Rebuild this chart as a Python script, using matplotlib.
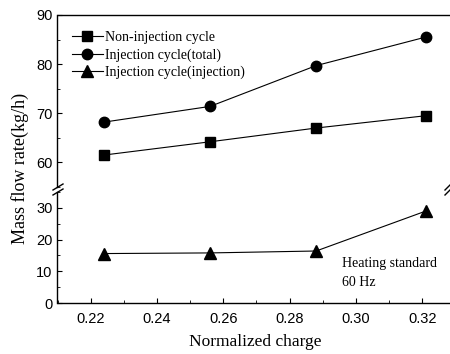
import matplotlib
matplotlib.use("Agg")
import matplotlib.pyplot as plt
from matplotlib.ticker import MultipleLocator, FormatStrFormatter
from matplotlib.lines import Line2D

charge = [0.224, 0.256, 0.288, 0.321]
non_injection = [61.5, 64.2, 67.0, 69.5]
injection_total = [68.2, 71.4, 79.7, 85.5]
injection_inj = [15.6, 15.8, 16.4, 28.9]
labels = ["Non-injection cycle", "Injection cycle(total)", "Injection cycle(injection)"]
upper_ticks = [60, 70, 80, 90]
lower_ticks = [0, 10, 20, 30]
x_ticks = [0.22, 0.24, 0.26, 0.28, 0.30, 0.32]

W, H = 450, 354
fig = plt.figure(figsize=(W / 100, H / 100), dpi=100)

left_px, right_px = 57.5, 455.4
def fx(px):
    return px / W
def fy(py):
    return 1 - py / H

ax_lo = fig.add_axes([fx(left_px), fy(303.3), fx(right_px - left_px), (303.3 - 191.7) / H])
ax_hi = fig.add_axes([fx(left_px), fy(187.0), fx(right_px - left_px), (187.0 - 15.0) / H])

sans = "Liberation Sans"
serif = "Liberation Serif"
lw = 0.8

ax_hi.plot(charge, non_injection, color="black", lw=lw, marker="s", ms=6.5)
ax_hi.plot(charge, injection_total, color="black", lw=lw, marker="o", ms=7.5)
ax_lo.plot(charge, injection_inj, color="black", lw=lw, marker="^", ms=8)

for ax in (ax_lo, ax_hi):
    ax.set_xlim(0.21, 0.33)
    ax.spines["right"].set_visible(False)
    for s in ax.spines.values():
        s.set_linewidth(1.0)
    ax.tick_params(direction="in", which="both", labelsize=10.5)
    ax.xaxis.set_minor_locator(MultipleLocator(0.01))
    ax.yaxis.set_minor_locator(MultipleLocator(5))

ax_hi.set_ylim(55, 90)
ax_hi.set_yticks(upper_ticks)
ax_hi.spines["bottom"].set_visible(False)
ax_hi.tick_params(axis="x", which="both", bottom=False, labelbottom=False, top=False)
ax_hi.patch.set_alpha(0)

ax_lo.set_ylim(0, 35)
ax_lo.set_yticks(lower_ticks)
ax_lo.spines["top"].set_visible(False)
ax_lo.set_xticks(x_ticks)
ax_lo.xaxis.set_major_formatter(FormatStrFormatter("%.2f"))
ax_lo.tick_params(axis="x", pad=6)

for ax in (ax_lo, ax_hi):
    for lab in ax.get_yticklabels() + ax.get_xticklabels():
        lab.set_fontfamily(sans)
        lab.set_fontsize(10.5)

handles = [
    Line2D([], [], color="black", lw=lw, marker="s", ms=6.5),
    Line2D([], [], color="black", lw=lw, marker="o", ms=7.5),
    Line2D([], [], color="black", lw=lw, marker="^", ms=8),
]
ax_hi.legend(handles, labels, loc="upper left", frameon=False,
             prop={"family": serif, "size": 10}, handlelength=2.2,
             handletextpad=0.2, labelspacing=0.3,
             bbox_to_anchor=(0.005, 0.98))

fig.text(fx(342), fy(264), "Heating standard", family=serif, fontsize=10, va="center", ha="left")
fig.text(fx(342), fy(283), "60 Hz", family=serif, fontsize=10, va="center", ha="left")

fig.text(fx(255), fy(342), "Normalized charge", family=serif, fontsize=12.5, ha="center", va="center")
fig.text(fx(20), fy(168), "Mass flow rate(kg/h)", family=serif, fontsize=13, rotation=90, ha="center", va="center")

# break marks
for (x0, y0, half) in [(58, 189.5, 5), (448, 189.5, 3)]:
    for dy in (-2.5, 2.5):
        fig.add_artist(Line2D([fx(x0 - half), fx(x0 + half)], [fy(y0 + dy + 3), fy(y0 + dy - 3)],
                              color="black", lw=1.0))

fig.savefig("out.png", dpi=100)
